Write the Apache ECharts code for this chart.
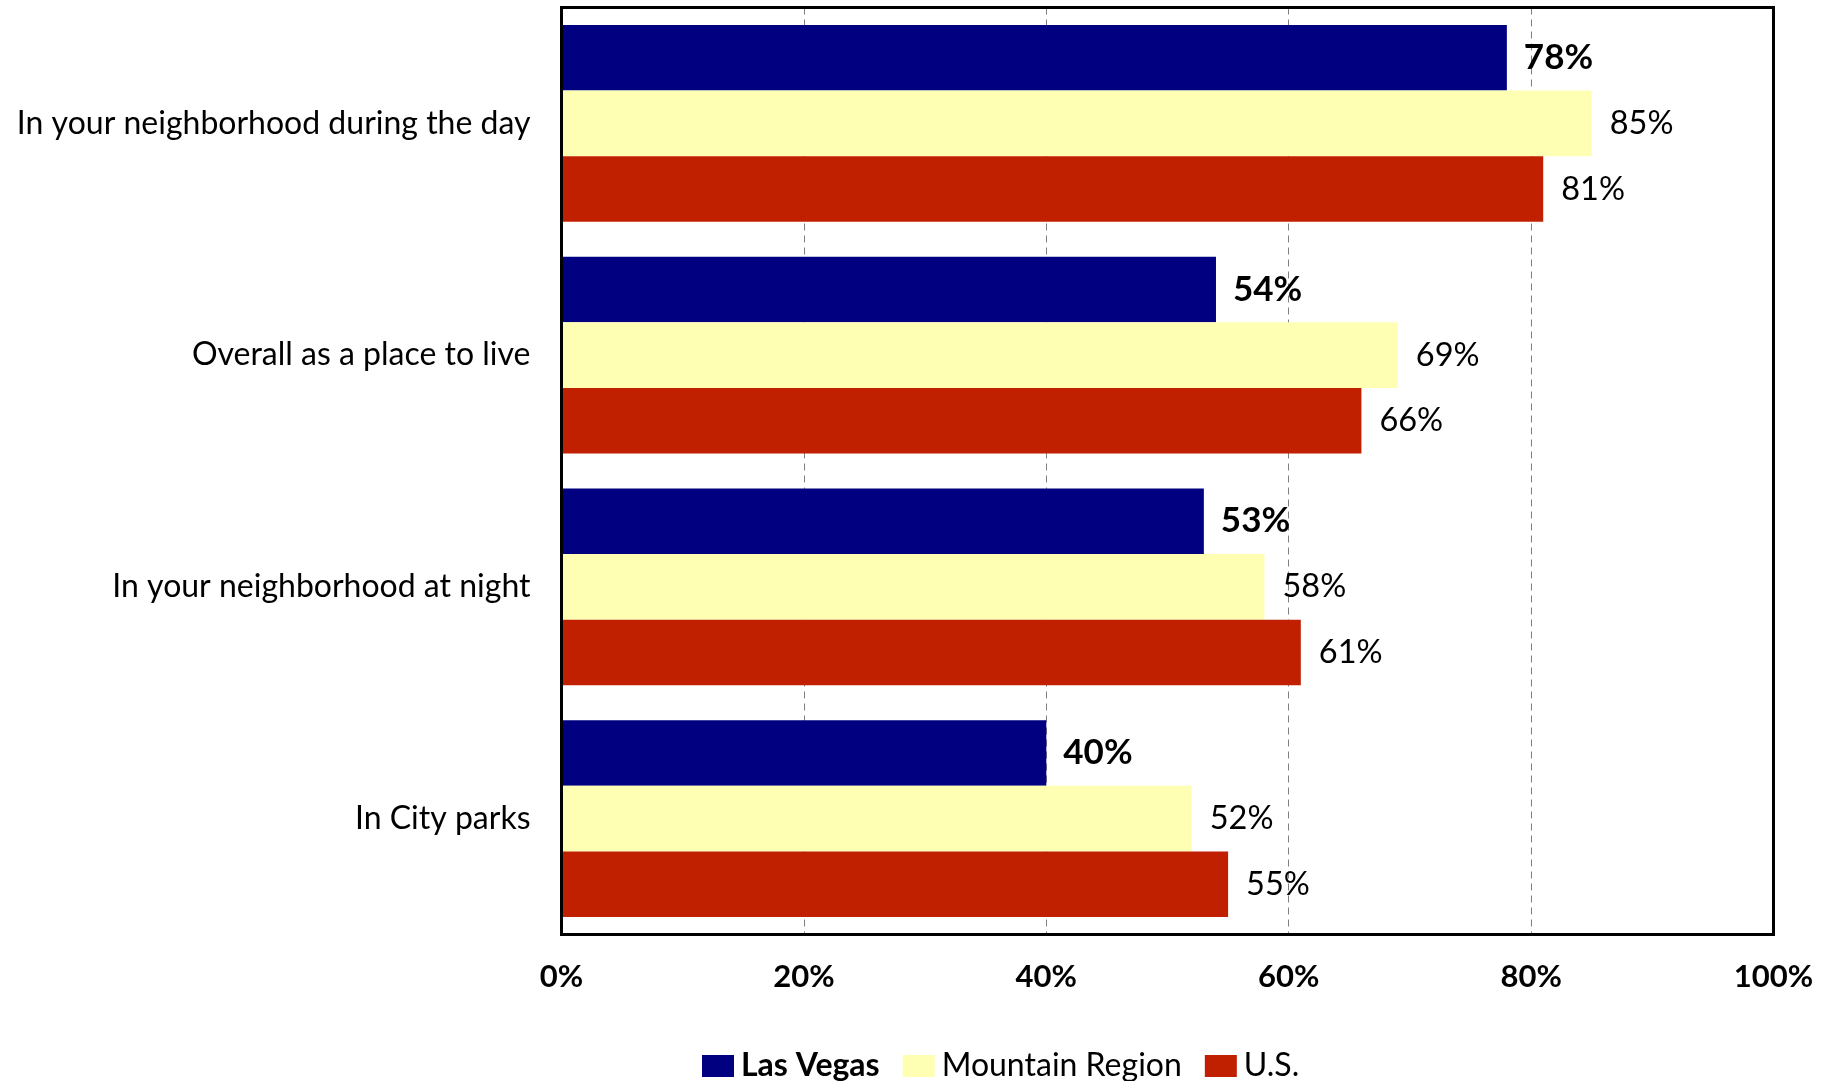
<!DOCTYPE html>
<html>
<head>
<meta charset="utf-8">
<style>
  html, body { margin: 0; padding: 0; background: #fff; }
  #chart { width: 1831px; height: 1081px; }
</style>
<script src="https://cdn.jsdelivr.net/npm/echarts@6/dist/echarts.min.js"></script>
</head>
<body>
<div id="chart"></div>
<script>
// Safety ratings: share of residents rating each aspect positively
const categories = [
  'In your neighborhood during the day',
  'Overall as a place to live',
  'In your neighborhood at night',
  'In City parks'
];
const seriesNames = ['Las Vegas', 'Mountain Region', 'U.S.'];
const lasVegas = [78, 54, 53, 40];
const mountainRegion = [85, 69, 58, 52];
const unitedStates = [81, 66, 61, 55];
const seriesColors = ['#000080', '#FFFFB3', '#C02000'];

const FONT = 'Lato';

function makeSeries(name, values, color, bold) {
  return {
    name: name,
    type: 'bar',
    data: values,
    barGap: '0%',
    barCategoryGap: '15%',
    itemStyle: { color: color },
    label: {
      show: true,
      position: 'right',
      distance: bold ? 17 : 18,
      formatter: '{c}%',
      color: '#000',
      fontFamily: FONT,
      fontSize: bold ? 35 : 32.5,
      fontWeight: bold ? 'bold' : 'normal',
      padding: [5, 0, 0, 0]
    }
  };
}

const chart = echarts.init(document.getElementById('chart'));
chart.setOption({
  backgroundColor: '#fff',
  animation: false,
  grid: {
    left: 561.5, right: 57.5, top: 7.5, bottom: 146.5,
    show: true, borderColor: '#000', borderWidth: 3,
    z: 5,
    containLabel: false
  },
  xAxis: {
    type: 'value',
    min: 0, max: 100, interval: 20,
    axisLine: { show: false },
    axisTick: { show: false },
    axisLabel: {
      formatter: '{value}%',
      color: '#000',
      fontFamily: FONT,
      fontSize: 31,
      fontWeight: 'bold',
      margin: 27
    },
    splitLine: {
      show: true,
      lineStyle: { color: '#808080', width: 1, type: [7, 5] }
    }
  },
  yAxis: {
    type: 'category',
    data: categories,
    inverse: true,
    axisLine: { show: false },
    axisTick: { show: false },
    axisLabel: {
      color: '#000',
      fontFamily: FONT,
      fontSize: 32,
      margin: 31,
      padding: [5, 0, 0, 0]
    }
  },
  legend: {
    data: seriesNames,
    left: 697,
    top: 1045,
    itemWidth: 32,
    itemHeight: 22,
    itemGap: 23,
    icon: 'rect',
    formatter: function (name) {
      return name === 'Las Vegas' ? '{b|' + name + '}' : '{n|' + name + '}';
    },
    textStyle: {
      color: '#000',
      fontFamily: FONT,
      fontSize: 32,
      padding: [0, 0, 0, 2],
      rich: {
        b: { fontFamily: FONT, fontSize: 32, fontWeight: 'bold', color: '#000' },
        n: { fontFamily: FONT, fontSize: 32, color: '#000' }
      }
    }
  },
  series: [
    makeSeries(seriesNames[0], lasVegas, seriesColors[0], true),
    makeSeries(seriesNames[1], mountainRegion, seriesColors[1], false),
    makeSeries(seriesNames[2], unitedStates, seriesColors[2], false)
  ]
});
</script>
</body>
</html>
